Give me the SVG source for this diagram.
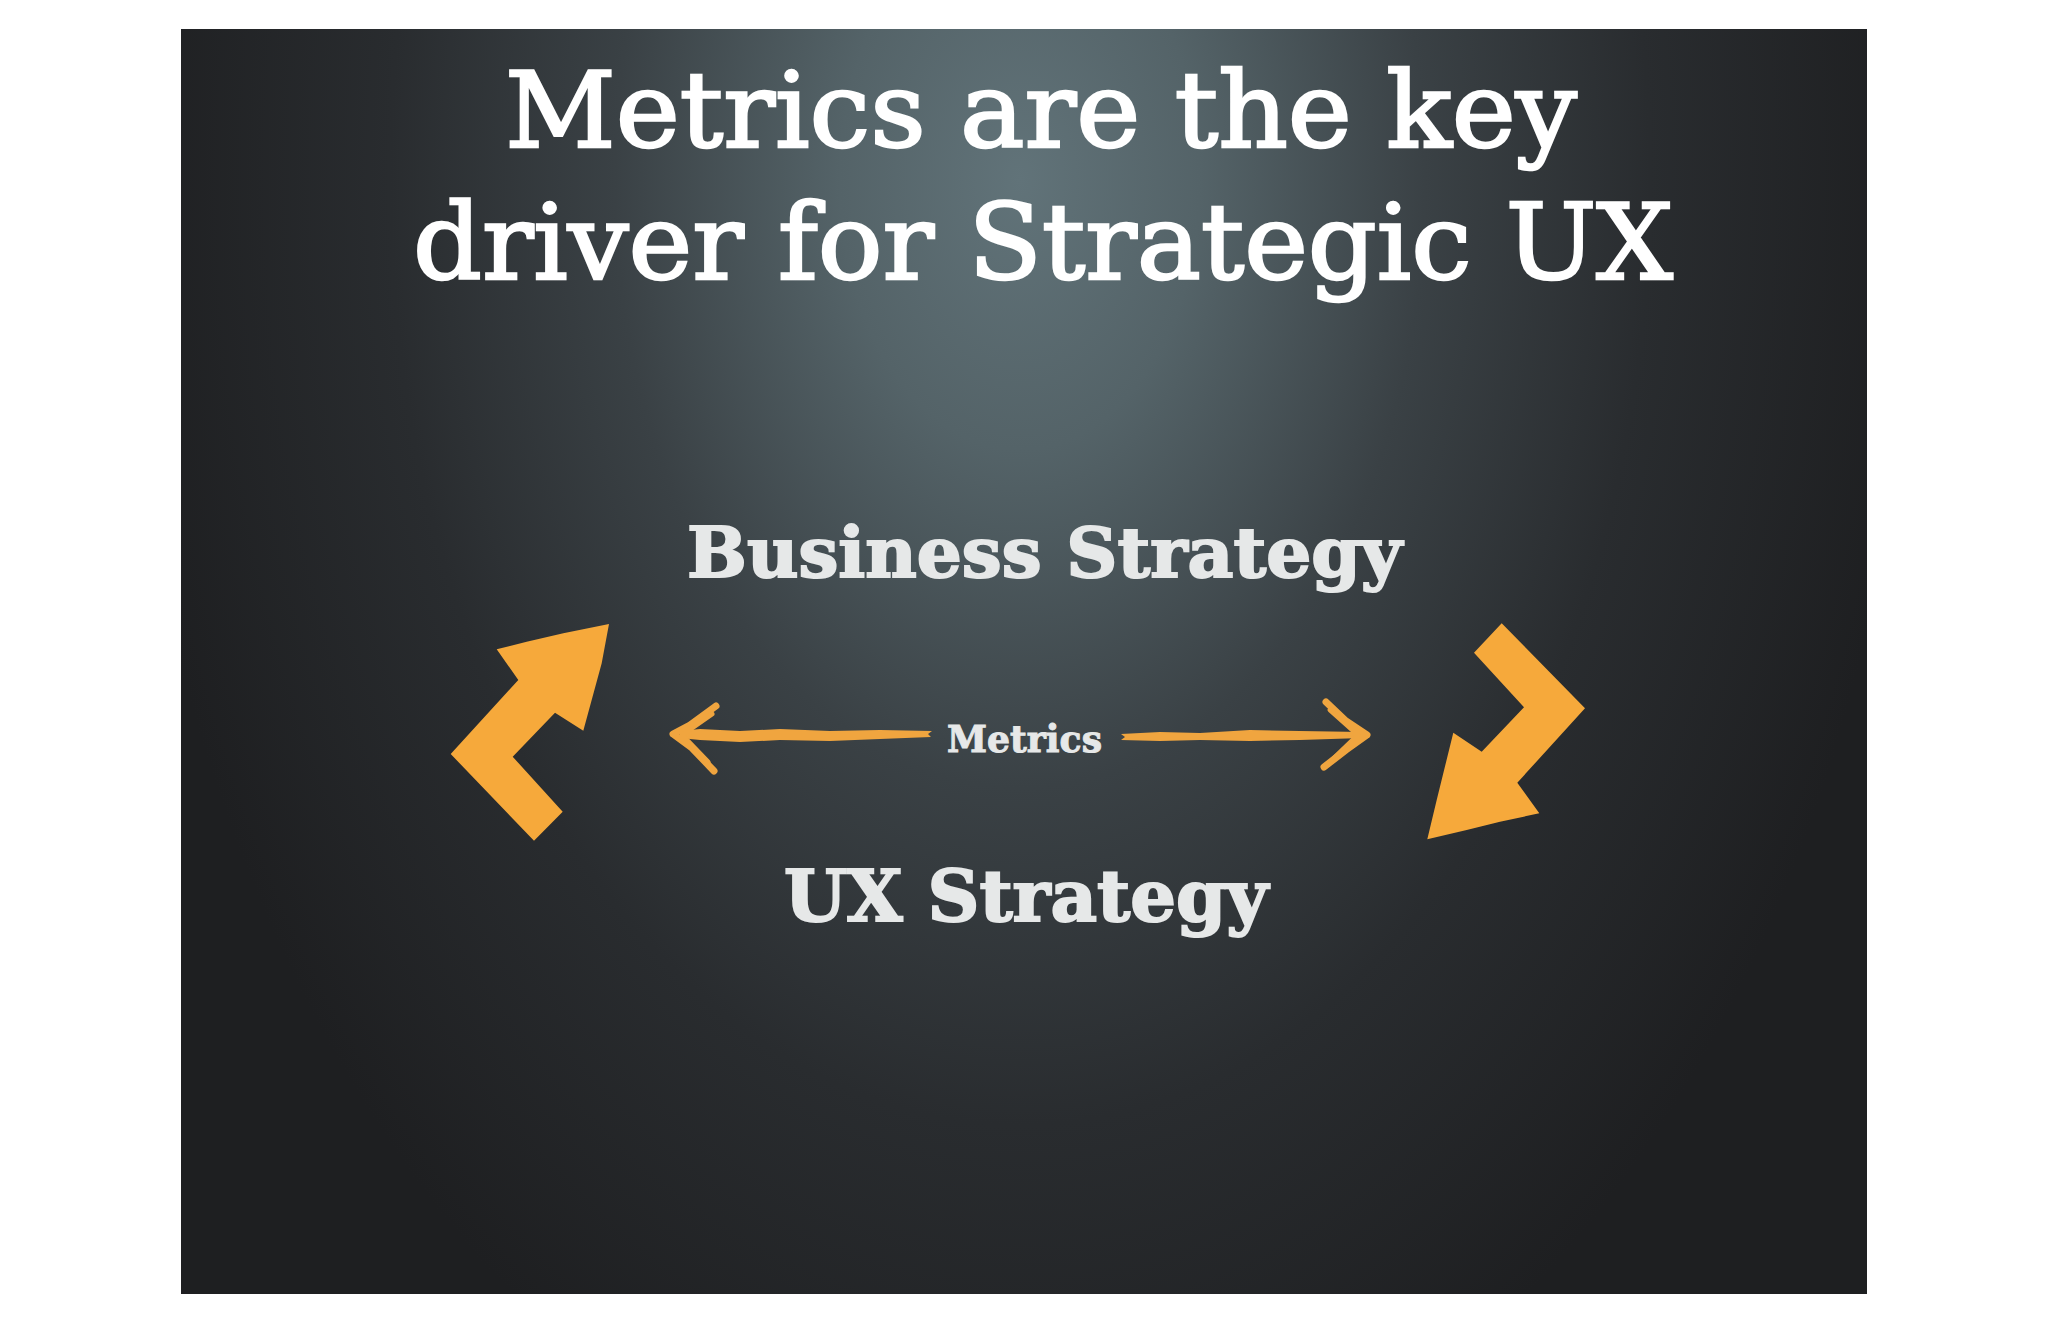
<svg xmlns="http://www.w3.org/2000/svg" width="2048" height="1325" viewBox="0 0 2048 1325">
<defs>
<radialGradient id="bg" gradientUnits="userSpaceOnUse" cx="1020" cy="180" r="1000" gradientTransform="translate(1020 180) scale(0.9 1.35) translate(-1020 -180)">
<stop offset="0" stop-color="#617379"/>
<stop offset="0.2" stop-color="#546368"/>
<stop offset="0.45" stop-color="#3a4145"/>
<stop offset="0.7" stop-color="#292c2f"/>
<stop offset="1" stop-color="#1e1f21"/>
</radialGradient>
<style>
.title{font-family:"DejaVu Serif","Liberation Serif",serif;font-size:104px;fill:#ffffff;stroke:#ffffff;stroke-width:2.5}
.label{font-family:"DejaVu Serif","Liberation Serif",serif;font-weight:bold;fill:#e6e8e8;stroke:#e6e8e8;stroke-width:2}
.big{fill:#f6a93b}
.brush{fill:#f0a53f}
.barb{fill:none;stroke:#f0a53f;stroke-width:7;stroke-linecap:round;stroke-linejoin:round}
</style>
</defs>
<rect x="0" y="0" width="2048" height="1325" fill="#ffffff"/>
<rect x="181" y="29" width="1686" height="1265" fill="url(#bg)"/>
<g id="title">
<text class="title" x="505" y="147" textLength="1072" lengthAdjust="spacingAndGlyphs">Metrics are the key</text>
<text class="title" x="413" y="279" textLength="1260" lengthAdjust="spacingAndGlyphs">driver for Strategic UX</text>
</g>
<g id="business-strategy">
<text class="label" x="687" y="577" font-size="69" textLength="715" lengthAdjust="spacingAndGlyphs">Business Strategy</text>
</g>
<g id="ux-strategy">
<text class="label" x="784" y="921" font-size="71" textLength="484" lengthAdjust="spacingAndGlyphs">UX Strategy</text>
</g>
<g id="metrics">
<text class="label" x="947" y="752" font-size="38" textLength="155" lengthAdjust="spacingAndGlyphs" style="stroke-width:1">Metrics</text>
</g>
<g id="connectors">
<path class="big" d="M609 624 L601.7 663.3 L583.3 730.7 L555 712.7 L512.7 756.7 L562.7 811.7 L534 840.7 L450.7 754 L518.3 680 L496.7 649.3 L526.7 641.7 L563.3 633.3 Z"/>
<path class="big" d="M1501.7 623.3 L1585 708.3 L1517.3 782.7 L1539.3 813.3 L1500 821.7 L1466.7 830 L1427.3 839.3 L1436.7 800 L1453.3 732.7 L1481.7 751.7 L1524 707.3 L1474 652.7 Z"/>
<path class="brush" d="M680 731 L700 729 L740 731 L780 729 L830 731 L880 730 L932 731 L928 734 L931 737 L880 739 L830 741 L780 740 L740 742 L700 740 L680 738 Z"/>
<path class="barb" d="M716 706 L690 725 L673 734 L692 748 L714 771"/>
<path class="barb" d="M712 714 L682 735 L708 762" style="stroke-width:5"/>
<path class="brush" d="M1121 734 L1160 732 L1200 733 L1250 730 L1300 731 L1362 732 L1362 738 L1300 740 L1250 741 L1200 740 L1160 741 L1121 740 L1125 737 Z"/>
<path class="barb" d="M1326 702 L1346 721 L1367 735 L1346 750 L1324 767"/>
<path class="barb" d="M1330 710 L1358 735 L1332 760" style="stroke-width:5"/>
</g>
</svg>
